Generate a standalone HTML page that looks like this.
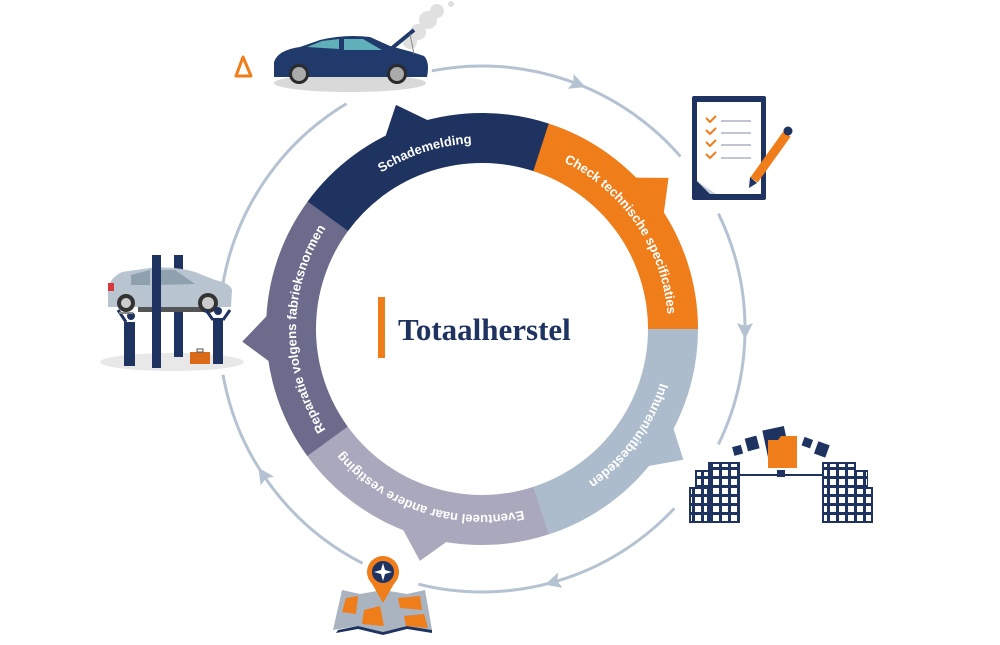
<!DOCTYPE html>
<html><head><meta charset="utf-8"><style>
html,body{margin:0;padding:0;background:#fff;}
svg{display:block;}
</style></head><body>
<svg width="1000" height="645" viewBox="0 0 1000 645" xmlns="http://www.w3.org/2000/svg">
<defs>
<pattern id="win" x="0" y="0" width="9" height="9" patternUnits="userSpaceOnUse">
<rect width="9" height="9" fill="#1f3360"/><rect x="2" y="2" width="6" height="6" fill="#fff"/>
</pattern>
<path id="tp" d="M482,143 A186,186 0 1,1 481.99,143"/>
</defs>

<!-- outer arcs -->
<g fill="none" stroke="#b5c2d2" stroke-width="3">
<path d="M431.8,70.8 A263,263 0 0,1 680.5,156.5"/>
<path d="M718.4,213.7 A263,263 0 0,1 718.4,444.3"/>
<path d="M674.3,508.4 A263,263 0 0,1 418.4,584.2"/>
<path d="M362.6,563.3 A263,263 0 0,1 223,374.7"/>
<path d="M223,283.3 A263,263 0 0,1 346.5,103.6"/>
</g>
<g fill="#b5c2d2">
<polygon points="492,66 476,58 479,66 476,74" transform="rotate(21 482 329)"/>
<polygon points="492,66 476,58 479,66 476,74" transform="rotate(90 482 329)"/>
<polygon points="492,66 476,58 479,66 476,74" transform="rotate(164 482 329)"/>
<polygon points="492,66 476,58 479,66 476,74" transform="rotate(236 482 329)"/>
</g>

<!-- ring segments -->
<g fill="none" stroke-width="50">
<circle cx="482" cy="329" r="191" stroke="#1f3360" stroke-dasharray="240.5 960" transform="rotate(216 482 329)"/>
<circle cx="482" cy="329" r="191" stroke="#ee7d1a" stroke-dasharray="240.5 960" transform="rotate(-72 482 329)"/>
<circle cx="482" cy="329" r="191" stroke="#adbccd" stroke-dasharray="240.5 960" transform="rotate(0 482 329)"/>
<circle cx="482" cy="329" r="191" stroke="#aaa8bd" stroke-dasharray="240.5 960" transform="rotate(72 482 329)"/>
<circle cx="482" cy="329" r="191" stroke="#6c6b8c" stroke-dasharray="240.5 960" transform="rotate(144 482 329)"/>
</g>
<!-- teeth -->
<polygon points="448.5,117.6 469.4,89.3 496.9,115.5 482,140" fill="#1f3360" transform="rotate(342 482 329)"/>
<polygon points="448.5,117.6 469.4,89.3 496.9,115.5 482,140" fill="#ee7d1a" transform="rotate(54 482 329)"/>
<polygon points="448.5,117.6 469.4,89.3 496.9,115.5 482,140" fill="#adbccd" transform="rotate(126 482 329)"/>
<polygon points="448.5,117.6 469.4,89.3 496.9,115.5 482,140" fill="#aaa8bd" transform="rotate(198 482 329)"/>
<polygon points="448.5,117.6 469.4,89.3 496.9,115.5 482,140" fill="#6c6b8c" transform="rotate(270 482 329)"/>

<!-- ring labels -->
<g font-family="Liberation Sans, sans-serif" font-weight="bold" font-size="13" fill="#fff" text-anchor="middle">
<text><textPath href="#tp" startOffset="95%">Schademelding</textPath></text>
<text><textPath href="#tp" startOffset="15.5%">Check technische specificaties</textPath></text>
<text><textPath href="#tp" startOffset="35%">Inhuren/uitbesteden</textPath></text>
<text><textPath href="#tp" startOffset="55%">Eventueel naar andere vestiging</textPath></text>
<text><textPath href="#tp" startOffset="75%">Reparatie volgens fabrieksnormen</textPath></text>
</g>

<!-- center -->
<rect x="378" y="297" width="7" height="61" fill="#ee7d1a"/>
<text x="398" y="340" font-family="Liberation Serif, serif" font-weight="bold" font-size="31" fill="#1f3360">Totaalherstel</text>

<!-- top car -->
<ellipse cx="350" cy="83" rx="76" ry="9" fill="#d9d9d9"/>
<g fill="#e0e0e0"><circle cx="410" cy="42" r="7"/><circle cx="418" cy="32" r="8"/><circle cx="428" cy="20" r="9"/><circle cx="437" cy="11" r="7"/><circle cx="451" cy="4" r="3"/></g>
<path d="M274,62 Q278,50 300,47 L320,40 Q345,34 370,37 L390,46 L412,52 L424,56 Q430,62 427,77 L274,77 Z" fill="#1f3a6b"/>
<polygon points="307,47 322,41 339,39 339,49" fill="#5fb0b8"/>
<polygon points="344,39 363,39 382,50 344,50" fill="#5fb0b8"/>
<line x1="386" y1="53" x2="414" y2="30" stroke="#1f3a6b" stroke-width="4"/>
<line x1="410" y1="34" x2="414" y2="54" stroke="#888" stroke-width="1"/>
<circle cx="299" cy="74" r="10" fill="#2b2b2b"/><circle cx="299" cy="74" r="7" fill="#aaa"/>
<circle cx="397" cy="74" r="10" fill="#2b2b2b"/><circle cx="397" cy="74" r="7" fill="#aaa"/>
<polygon points="243,57 236,76 251,76" fill="none" stroke="#ee7d1a" stroke-width="3" stroke-linejoin="round"/>

<!-- clipboard -->
<rect x="692" y="96" width="74" height="104" rx="2" fill="#1f3360"/>
<rect x="697" y="102" width="64" height="92" fill="#fff"/>
<polygon points="697,181 710,194 697,194" fill="#1f3360"/>
<polygon points="697,181 710,194 716,194" fill="#c9d1db"/>
<g fill="none" stroke="#ee7d1a" stroke-width="2"><polyline points="706,118 710,122 716,116"/><polyline points="706,130 710,134 716,128"/><polyline points="706,142 710,146 716,140"/><polyline points="706,154 710,158 716,152"/></g>
<g stroke="#c0c6d0" stroke-width="2"><line x1="721" y1="121" x2="751" y2="121"/><line x1="721" y1="133" x2="751" y2="133"/><line x1="721" y1="145" x2="751" y2="145"/><line x1="721" y1="158" x2="751" y2="158"/></g>
<line x1="754" y1="180" x2="787" y2="134" stroke="#ee7d1a" stroke-width="9"/>
<circle cx="788" cy="131" r="4.5" fill="#1f3360"/>
<polygon points="749,188 750,177 757,183" fill="#1f3360"/>

<!-- buildings -->
<rect x="689" y="487" width="20" height="36" fill="#1f3360"/>
<rect x="691" y="489" width="16" height="32" fill="url(#win)"/>
<rect x="695" y="470" width="14" height="19" fill="#1f3360"/>
<rect x="697" y="472" width="11" height="16" fill="url(#win)"/>
<rect x="708" y="462" width="32" height="61" fill="#1f3360"/>
<rect x="710" y="464" width="28" height="57" fill="url(#win)"/>
<rect x="822" y="462" width="34" height="61" fill="#1f3360"/>
<rect x="824" y="464" width="30" height="57" fill="url(#win)"/>
<rect x="855" y="470" width="13" height="19" fill="#1f3360"/>
<rect x="856" y="472" width="11" height="16" fill="url(#win)"/>
<rect x="854" y="487" width="19" height="36" fill="#1f3360"/>
<rect x="856" y="489" width="15" height="32" fill="url(#win)"/>
<line x1="740" y1="475" x2="822" y2="475" stroke="#1f3360" stroke-width="2"/>
<rect x="777" y="470" width="8" height="7" fill="#1f3360"/>
<rect x="765" y="428" width="22" height="28" fill="#1f3360" transform="rotate(-12 776 442)"/>
<path d="M768,440 L778,440 L781,436 L797,436 L797,468 L768,468 Z" fill="#ee7d1a"/>
<rect x="733" y="446" width="9" height="9" fill="#1f3360" transform="rotate(-15 737 450)"/>
<rect x="746" y="437" width="12" height="13" fill="#1f3360" transform="rotate(-15 752 443)"/>
<rect x="803" y="438" width="9" height="9" fill="#1f3360" transform="rotate(20 807 442)"/>
<rect x="816" y="443" width="12" height="13" fill="#1f3360" transform="rotate(20 822 449)"/>

<!-- lift car -->
<ellipse cx="172" cy="362" rx="72" ry="9" fill="#e8e8e8"/>
<rect x="174" y="255" width="9" height="102" fill="#1f3360"/>
<path d="M108,288 Q110,278 122,272 L150,268 Q175,266 195,272 L215,280 Q230,283 232,290 L231,307 L108,307 Z" fill="#b8c4cf"/>
<polygon points="131,275 150,270 150,285 131,285" fill="#8fa0ae"/>
<polygon points="157,270 175,270 195,284 157,285" fill="#8fa0ae"/>
<rect x="108" y="283" width="6" height="8" fill="#d9363e"/>
<rect x="138" y="307" width="70" height="5" fill="#555"/>
<circle cx="126" cy="303" r="9" fill="#333"/><circle cx="126" cy="303" r="5" fill="#ccc"/>
<circle cx="208" cy="303" r="10" fill="#333"/><circle cx="208" cy="303" r="6" fill="#ccc"/>
<rect x="152" y="255" width="9" height="113" fill="#1f3360"/>
<g fill="#1f3360">
<rect x="124" y="322" width="9" height="44"/><rect x="132" y="322" width="3" height="44"/>
<circle cx="131" cy="316" r="4"/><line x1="126" y1="322" x2="118" y2="310" stroke="#1f3360" stroke-width="3"/>
<rect x="213" y="318" width="10" height="46"/>
<circle cx="218" cy="311" r="4"/>
<line x1="213" y1="320" x2="206" y2="310" stroke="#1f3360" stroke-width="3"/><line x1="223" y1="320" x2="230" y2="310" stroke="#1f3360" stroke-width="3"/>
</g>
<rect x="119" y="312" width="14" height="2" fill="#888"/>
<rect x="190" y="352" width="20" height="12" fill="#d86a1a"/>
<rect x="197" y="349" width="6" height="3" fill="none" stroke="#555" stroke-width="1"/>

<!-- map -->
<polygon points="333,630 342,590 360,594 383,590 407,594 425,590 432,630 407,626 383,632 358,626" fill="#aab3c0"/>
<polygon points="338,630 358,626 383,632 407,626 432,630 432,633 407,629 383,635 358,629 336,633" fill="#1f3360"/>
<polygon points="346,598 358,596 356,614 342,612" fill="#ee7d1a"/>
<polygon points="364,610 380,606 384,626 362,624" fill="#ee7d1a"/>
<polygon points="398,598 420,596 422,610 400,608" fill="#ee7d1a"/>
<polygon points="404,616 424,614 428,628 406,626" fill="#ee7d1a"/>
<polygon points="371,582 395,582 383,603" fill="#ee7d1a"/>
<circle cx="383" cy="572" r="16" fill="#ee7d1a"/>
<circle cx="383" cy="572" r="11" fill="#1f3360"/>
<polygon points="383,563 385,570 392,572 385,574 383,581 381,574 374,572 381,570" fill="#fff"/>
</svg>
</body></html>
